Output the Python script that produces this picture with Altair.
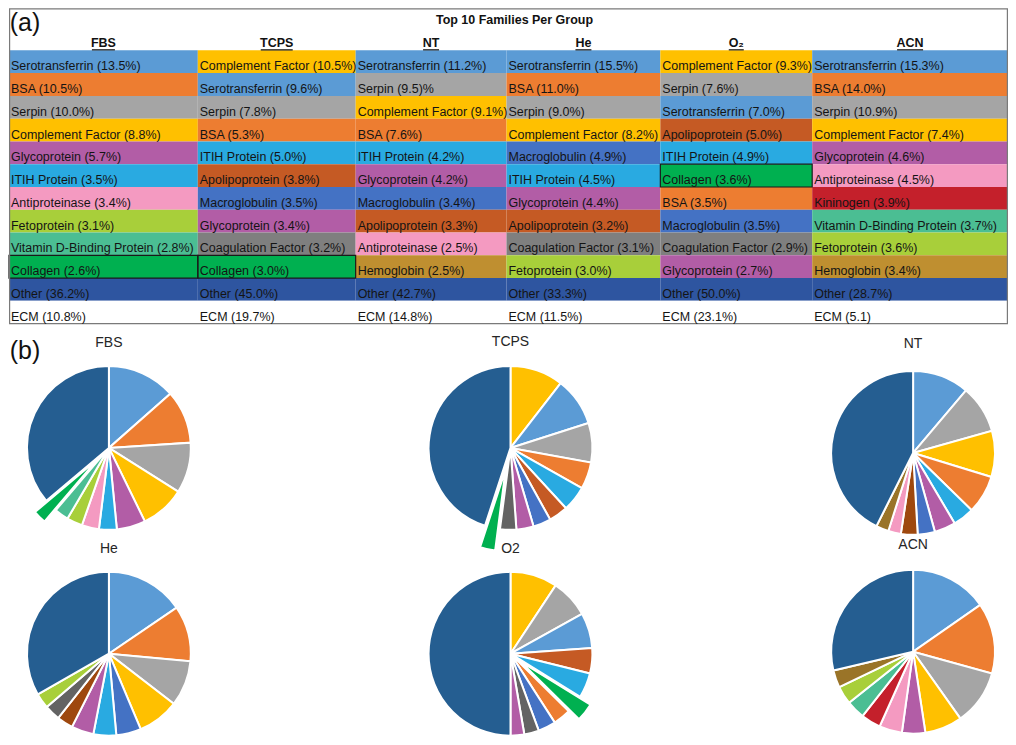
import math
import altair as alt
import pandas as pd

# ---------------- data ----------------
GROUPS = ["FBS", "TCPS", "NT", "He", "O2", "ACN"]
HEADERS = ["FBS", "TCPS", "NT", "He", "O₂", "ACN"]

FBS_FAMILIES = ["Serotransferrin", "BSA", "Serpin", "Complement Factor", "Glycoprotein",
                "ITIH Protein", "Antiproteinase", "Fetoprotein", "Vitamin D-Binding Protein", "Collagen"]
FBS_VALUES = [13.5, 10.5, 10.0, 8.8, 5.7, 3.5, 3.4, 3.1, 2.8, 2.6]

TCPS_FAMILIES = ["Complement Factor", "Serotransferrin", "Serpin", "BSA", "ITIH Protein",
                 "Apolipoprotein", "Macroglobulin", "Glycoprotein", "Coagulation Factor", "Collagen"]
TCPS_VALUES = [10.5, 9.6, 7.8, 5.3, 5.0, 3.8, 3.5, 3.4, 3.2, 3.0]

NT_FAMILIES = ["Serotransferrin", "Serpin", "Complement Factor", "BSA", "ITIH Protein",
               "Glycoprotein", "Macroglobulin", "Apolipoprotein", "Antiproteinase", "Hemoglobin"]
NT_VALUES = [11.2, 9.5, 9.1, 7.6, 4.2, 4.2, 3.4, 3.3, 2.5, 2.5]

HE_FAMILIES = ["Serotransferrin", "BSA", "Serpin", "Complement Factor", "Macroglobulin",
               "ITIH Protein", "Glycoprotein", "Apolipoprotein", "Coagulation Factor", "Fetoprotein"]
HE_VALUES = [15.5, 11.0, 9.0, 8.2, 4.9, 4.5, 4.4, 3.2, 3.1, 3.0]

O2_FAMILIES = ["Complement Factor", "Serpin", "Serotransferrin", "Apolipoprotein", "ITIH Protein",
               "Collagen", "BSA", "Macroglobulin", "Coagulation Factor", "Glycoprotein"]
O2_VALUES = [9.3, 7.6, 7.0, 5.0, 4.9, 3.6, 3.5, 3.5, 2.9, 2.7]

ACN_FAMILIES = ["Serotransferrin", "BSA", "Serpin", "Complement Factor", "Glycoprotein",
                "Antiproteinase", "Kininogen", "Vitamin D-Binding Protein", "Fetoprotein", "Hemoglobin"]
ACN_VALUES = [15.3, 14.0, 10.9, 7.4, 4.6, 4.5, 3.9, 3.7, 3.6, 3.4]

OTHER_VALUES = [36.2, 45.0, 42.7, 33.3, 50.0, 28.7]
ECM_VALUES = [10.8, 19.7, 14.8, 11.5, 23.1, 5.1]

FAMILIES = [FBS_FAMILIES, TCPS_FAMILIES, NT_FAMILIES, HE_FAMILIES, O2_FAMILIES, ACN_FAMILIES]
VALUES = [FBS_VALUES, TCPS_VALUES, NT_VALUES, HE_VALUES, O2_VALUES, ACN_VALUES]

LABEL_OVERRIDES = {("NT", "Serpin"): "Serpin (9.5)%", ("ACN", "ECM"): "ECM (5.1)"}

TABLE_TITLE = "Top 10 Families Per Group"
PANEL_LABELS = ["(a)", "(b)"]

# ---------------- styles / layout ----------------
TABLE_COLORS = {
    "Serotransferrin": "#5B9BD5", "BSA": "#ED7D31", "Serpin": "#A5A5A5",
    "Complement Factor": "#FFC000", "Glycoprotein": "#B25DA6", "ITIH Protein": "#29AAE1",
    "Antiproteinase": "#F49AC1", "Fetoprotein": "#A8CF3A", "Vitamin D-Binding Protein": "#4BBE93",
    "Collagen": "#00B050", "Other": "#2E55A0", "Apolipoprotein": "#C55A24",
    "Macroglobulin": "#4472C4", "Coagulation Factor": "#7F7F7F", "Hemoglobin": "#BF8F30",
    "Kininogen": "#C4202B", "ECM": "#FFFFFF",
}
PIE_COLORS = dict(TABLE_COLORS)
PIE_COLORS.update({"Other": "#255E91", "Coagulation Factor": "#636363", "Hemoglobin": "#9A7428"})
PIE_COLOR_OVERRIDES = {("NT", "Apolipoprotein"): "#9E480E", ("He", "Apolipoprotein"): "#9E480E"}

W, H = 1000, 729
FONT = "Liberation Sans"
COL_W = [189, 158, 151, 154, 152, 196]
ROW_TOP = 42
ROW_H = 22.8
BOX_BOTTOM = ROW_TOP + 12 * ROW_H
HEADER_Y = 35
UNDERLINE_Y = 41.5
UNDERLINE_W = [23, 32, 16, 16, 15, 26]
TITLE_Y = 12
PANEL_POS = [(16, 15), (16, 343)]

PIE_R = 82
PIE_CENTER = {"FBS": (100, 440), "TCPS": (502, 440), "NT": (905, 445),
              "He": (100, 646), "O2": (502, 646), "ACN": (905, 644)}
PIE_TITLE_Y = {"FBS": 335, "TCPS": 334, "NT": 336, "He": 541, "O2": 541, "ACN": 537}
EXPLODE = {("FBS", "Collagen"): 16, ("TCPS", "Collagen"): 22, ("O2", "Collagen"): 13}

# ---------------- build tables ----------------
col_x0 = [sum(COL_W[:i]) for i in range(len(COL_W))]

cells, heads, pies, ptitles = [], [], [], []
for gi, g in enumerate(GROUPS):
    fams = FAMILIES[gi] + ["Other", "ECM"]
    vals = VALUES[gi] + [OTHER_VALUES[gi], ECM_VALUES[gi]]
    x0 = col_x0[gi]
    x1 = x0 + COL_W[gi]
    for ri, (f, v) in enumerate(zip(fams, vals)):
        label = LABEL_OVERRIDES.get((g, f), f"{f} ({v:.1f}%)")
        y0 = ROW_TOP + ri * ROW_H
        cells.append(dict(group=g, family=f, label=label, x0=x0, x1=x1,
                          y0=y0, y1=y0 + ROW_H, tx=x0 + 2, ty=y0 + ROW_H * 0.70,
                          fill=TABLE_COLORS[f], collagen=(f == "Collagen")))
    cxm = x0 + COL_W[gi] / 2
    heads.append(dict(text=HEADERS[gi], x=cxm, y=HEADER_Y,
                      ux0=cxm - UNDERLINE_W[gi] / 2, ux1=cxm + UNDERLINE_W[gi] / 2, uy=UNDERLINE_Y))

    # pie slices
    pf = FAMILIES[gi] + ["Other"]
    pv = VALUES[gi] + [OTHER_VALUES[gi]]
    total = sum(pv)
    cum = 0.0
    cx0, cy0 = PIE_CENTER[g]
    for f, v in zip(pf, pv):
        t0 = 2 * math.pi * cum / total
        t1 = 2 * math.pi * (cum + v) / total
        cum += v
        mid = (t0 + t1) / 2
        d = EXPLODE.get((g, f), 0)
        pies.append(dict(group=g, family=f, value=v, t0=t0, t1=t1,
                         cx=cx0 + d * math.sin(mid), cy=cy0 - d * math.cos(mid),
                         color=PIE_COLOR_OVERRIDES.get((g, f), PIE_COLORS[f])))
    ptitles.append(dict(text=g, x=cx0, y=PIE_TITLE_Y[g]))

cells = pd.DataFrame(cells)
heads = pd.DataFrame(heads)
pies = pd.DataFrame(pies)
ptitles = pd.DataFrame(ptitles)
panels = pd.DataFrame(dict(text=PANEL_LABELS, x=[p[0] for p in PANEL_POS], y=[p[1] for p in PANEL_POS]))
titles = pd.DataFrame(dict(text=[TABLE_TITLE], x=[W / 2 + 6], y=[TITLE_Y]))

xs = alt.Scale(domain=[0, W], nice=False, zero=False)
ys = alt.Scale(domain=[0, H], nice=False, zero=False, reverse=True)


def X(f):
    return alt.X(f, type="quantitative", scale=xs, axis=None)


def Y(f):
    return alt.Y(f, type="quantitative", scale=ys, axis=None)


box = alt.Chart(titles).mark_rect(fillOpacity=0, stroke="#7a7a7a", strokeWidth=1.2).encode(
    x=alt.value(0.6), x2=alt.value(W - 0.6), y=alt.value(0.6), y2=alt.value(BOX_BOTTOM)
)

rects = alt.Chart(cells).mark_rect().encode(
    x=X("x0"), x2="x1", y=Y("y0"), y2="y1", color=alt.Color("fill:N", scale=None)
)

coll = alt.Chart(cells).transform_filter("datum.collagen").mark_rect(
    fillOpacity=0, stroke="#1a1a1a", strokeWidth=1.2
).encode(x=X("x0"), x2="x1", y=Y("y0"), y2="y1")

cell_text = alt.Chart(cells).mark_text(
    align="left", baseline="middle", font=FONT, fontSize=12.5, color="#141414"
).encode(x=X("tx"), y=Y("ty"), text="label:N")

head_text = alt.Chart(heads).mark_text(
    align="center", baseline="middle", font=FONT, fontSize=12.5, fontWeight="bold", color="#111"
).encode(x=X("x"), y=Y("y"), text="text:N")

head_line = alt.Chart(heads).mark_rule(color="#111", strokeWidth=1.2).encode(
    x=X("ux0"), x2="ux1", y=Y("uy")
)

title_text = alt.Chart(titles).mark_text(
    align="center", baseline="middle", font=FONT, fontSize=12.5, fontWeight="bold", color="#111"
).encode(x=X("x"), y=Y("y"), text="text:N")

panel_text = alt.Chart(panels).mark_text(
    align="center", baseline="middle", font=FONT, fontSize=25, color="#111"
).encode(x=X("x"), y=Y("y"), text="text:N")

arcs = alt.Chart(pies).mark_arc(radius=PIE_R, stroke="white", strokeWidth=2).encode(
    x=X("cx"), y=Y("cy"),
    theta=alt.Theta("t0:Q", scale=None), theta2="t1:Q",
    color=alt.Color("color:N", scale=None),
    tooltip=["group:N", "family:N", "value:Q"],
)

pie_titles = alt.Chart(ptitles).mark_text(
    align="center", baseline="middle", font=FONT, fontSize=14, color="#262626"
).encode(x=X("x"), y=Y("y"), text="text:N")

chart = alt.layer(
    rects, coll, box, cell_text, head_text, head_line, title_text, panel_text, arcs, pie_titles
).properties(width=W, height=H, padding=0).configure_view(stroke=None)

chart.save("out.html", embed_options={"renderer": "svg", "actions": False})
